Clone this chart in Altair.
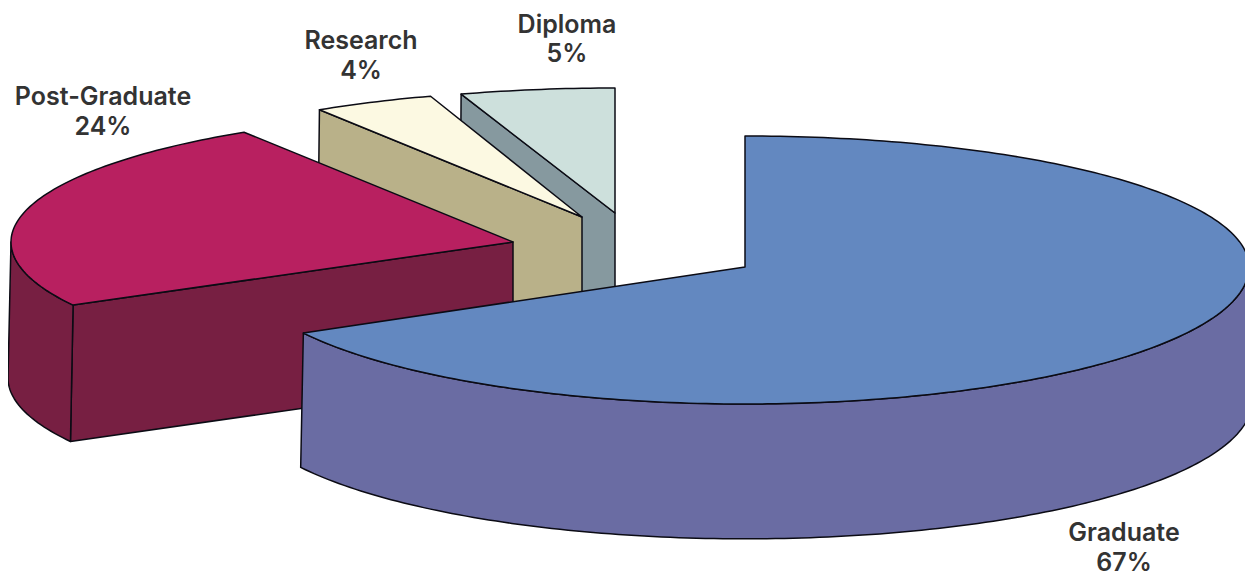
import math
import altair as alt

# chart values
categories = ["Diploma", "Research", "Post-Graduate", "Graduate"]
percents = [5, 4, 24, 67]
# sweep starts (percent of the full circle, clockwise from 12 o'clock)
starts = [95, 91, 67, 0]

# layout of the exploded, tilted pie (pixels of the page)
apex_x = [615, 582, 513, 745]
apex_y = [213, 217, 242, 267]
radius_x = [498, 490, 502, 504]
radius_y = [125, 127, 130, 131]
near_radius_y = [125, 127, 131, 137]
depths = [134, 134, 136, 134]
bottom_flare = 1.006

top_colors = ["#CDE0DC", "#FCF9E2", "#B82060", "#6388C0"]
cut_colors = ["#86999F", "#B9B189", "#771F42", "#6A6CA3"]
rim_colors = ["#86999F", "#B9B189", "#771F42", "#6A6CA3"]

label_x = [567, 361, 103, 1124]
name_y = [25, 41, 97, 533]
pct_y = [54, 71, 127, 563]


def point(i, deg, lowered=False):
    a = math.radians(deg)
    k = bottom_flare if lowered else 1.0
    ry = near_radius_y[i] if math.cos(a) < 0 else radius_y[i]
    x = apex_x[i] + k * radius_x[i] * math.sin(a)
    y = apex_y[i] - k * ry * math.cos(a)
    return [x, y + (depths[i] if lowered else 0)]


def feature(ring, color):
    ring = ring + [ring[0]]
    return {
        "type": "Feature",
        "properties": {"fill": color},
        "geometry": {"type": "Polygon", "coordinates": [ring]},
    }


features = []
for i in range(len(categories)):
    a0 = starts[i] * 3.6
    a1 = (starts[i] + percents[i]) * 3.6
    # cut face at the start of the sweep, when it turns towards the viewer
    if math.sin(math.radians(a0)) < -1e-6:
        features.append(feature([
            point(i, a0),
            [apex_x[i], apex_y[i]],
            [apex_x[i], apex_y[i] + depths[i]],
            point(i, a0, True),
        ], cut_colors[i]))
    # outer rim: the part of the arc on the near half
    r0, r1 = max(a0, 90), min(a1, 270)
    if r1 > r0:
        n = int(r1 - r0) + 1
        arc = [r0 + (r1 - r0) * k / n for k in range(n + 1)]
        features.append(feature(
            [point(i, d) for d in arc] + [point(i, d, True) for d in reversed(arc)],
            rim_colors[i],
        ))
    # top face
    n = int(a1 - a0) + 1
    arc = [a0 + (a1 - a0) * k / n for k in range(n + 1)]
    features.append(feature(
        [[apex_x[i], apex_y[i]]] + [point(i, d) for d in arc],
        top_colors[i],
    ))

proj = dict(type="identity", scale=1, translate=[-8, -8])

shapes = (
    alt.Chart(alt.Data(values=features))
    .mark_geoshape(stroke="#0b0b14", strokeWidth=1.5, strokeJoin="round")
    .encode(fill=alt.Fill("properties.fill:N", scale=None))
    .project(**proj)
)

rows = []
for i, c in enumerate(categories):
    rows.append({"t": c, "lon": label_x[i], "lat": name_y[i]})
    rows.append({"t": f"{percents[i]}%", "lon": label_x[i], "lat": pct_y[i]})

labels = (
    alt.Chart(alt.Data(values=rows))
    .mark_text(font="Inter", fontWeight=600, fontSize=25,
               color="#333333", align="center", baseline="middle")
    .encode(longitude="lon:Q", latitude="lat:Q", text="t:N")
    .project(**proj)
)

chart = (
    alt.layer(shapes, labels)
    .properties(width=1237, height=573, padding=0, autosize="none", background="white")
    .configure_view(stroke=None)
)

chart.save("out.html", embed_options={"renderer": "svg", "actions": False})
